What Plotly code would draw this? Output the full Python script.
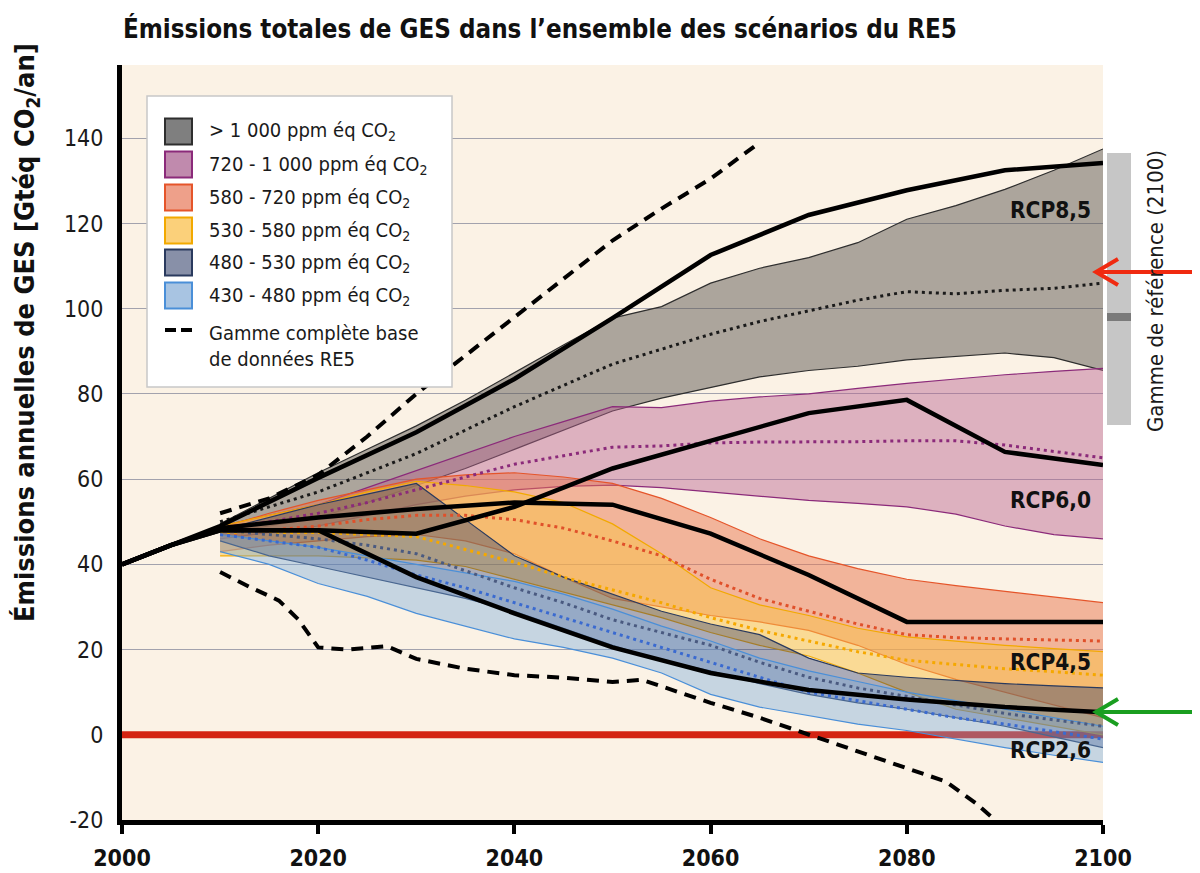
import plotly.graph_objects as go

# ---------------- data ----------------
YEARS = [2010, 2015, 2020, 2025, 2030, 2035, 2040, 2045, 2050, 2055,
         2060, 2065, 2070, 2075, 2080, 2085, 2090, 2095, 2100]

# > 1000 ppm
gt1000_hi = [49.5, 55.5, 61.5, 67, 72.5, 78.5, 85, 91.5, 97.8, 100.5, 106, 109.5, 112, 115.5, 121, 124.2, 128, 132.5, 137.5]
gt1000_med = [50, 53.5, 57, 61.5, 66, 71.5, 77, 82, 87, 90.5, 94, 97, 99.5, 102, 104, 103.5, 104.3, 104.8, 106]
gt1000_lo = [47.5, 49, 51, 54.5, 58.5, 62.5, 67, 71.5, 76, 79, 81.5, 84, 85.5, 86.5, 88, 88.8, 89.6, 88.5, 85.5]
# 720 - 1000 ppm
p720_hi = [49, 51.5, 54, 58, 62, 66, 70, 73.5, 77, 76.8, 78.3, 79.3, 80, 81.3, 82.5, 83.5, 84.5, 85.3, 86]
p720_med = [48.5, 50, 52, 54.5, 57.5, 60.5, 63.5, 65.5, 67.5, 67.8, 68.5, 68.7, 68.7, 68.8, 69, 69, 68, 66.5, 65]
p720_lo = [46, 47.5, 49, 51.5, 54, 56, 57.5, 58.3, 58.6, 58, 57, 56, 55, 54.3, 53.5, 51.8, 49, 47, 46]
# 580 - 720 ppm
p580_hi = [48.5, 52, 55, 57.5, 60, 61, 61.5, 60.5, 59, 55.5, 51, 46, 42, 39, 36.5, 35, 33.7, 32.3, 31]
p580_med = [47, 48, 49, 50.5, 51.5, 51.5, 50.5, 48.5, 45.5, 42, 36.5, 32, 29, 26, 23.5, 22.8, 22.5, 22.3, 22]
p580_lo = [43, 44.5, 45.5, 46.5, 47, 45.5, 42.5, 37, 32, 30, 28, 26.5, 24.5, 21, 16.5, 13, 10, 7, 4]
# 530 - 580 ppm
p530_hi = [49, 51.5, 54, 57, 59.5, 58.5, 57, 54.5, 49.5, 42.5, 34.5, 30.5, 28, 25, 23, 22, 21, 20.2, 19.5]
p530_med = [47.5, 47.5, 47.5, 47, 46.5, 43.5, 40.5, 37, 34, 31, 27.5, 24.5, 22, 19.5, 17.5, 16.5, 15.5, 14.8, 14]
p530_lo = [42, 42, 42, 41.5, 41, 39.5, 36.5, 33.5, 30.5, 27.5, 24, 21, 18.5, 14.5, 10, 6, 4, 2, 0]
# 480 - 530 ppm
p480_hi = [48, 51, 54, 56.5, 59, 50.5, 42, 37, 33, 29, 26, 23.5, 18, 14.5, 13.5, 12.8, 12, 11.5, 11]
p480_med = [48, 47, 46, 44.5, 42.5, 38.5, 34.5, 31, 27, 24, 21, 17, 13.5, 11, 9, 7, 5, 3.5, 2]
p480_lo = [45.5, 42, 39.5, 37, 34.5, 32, 29, 25, 21, 17.5, 15, 12, 9.5, 7.5, 6, 4, 2, -0.5, -3]
# 430 - 480 ppm
p430_hi = [47, 45.5, 44, 42, 40, 38, 36, 33, 29.5, 25.5, 22, 18, 15, 12.5, 10, 8, 6, 4, 2]
p430_med = [47, 45.5, 44, 41, 37.5, 34.5, 31, 27.5, 24, 20.5, 17, 13.5, 10, 8, 6, 4, 2.5, 0.8, -1]
p430_lo = [43, 40, 35.5, 32.5, 28.5, 25.5, 22.5, 20.5, 18, 14.5, 9.5, 6.5, 4.5, 2.5, 1, -1, -3, -4.8, -6.5]

# RCP pathways
RCP_YEARS = [2000, 2005, 2010, 2020, 2030, 2040, 2050, 2060, 2070, 2080, 2090, 2100]
rcp85 = [40, 44.5, 49, 60.3, 71, 83.5, 97.8, 112.6, 122, 127.8, 132.5, 134.2]
rcp60 = [40, 44.5, 48, 48, 47.2, 53.5, 62.5, 69, 75.5, 78.6, 66.4, 63.3]
rcp45 = [40, 44.5, 48.5, 51, 53, 54.5, 54, 47.2, 37.5, 26.5, 26.5, 26.5]
rcp26 = [40, 44.5, 48, 48, 37, 28.5, 20.5, 14.5, 10.5, 8.3, 6.5, 5.3]

# full AR5 database range (dashed)
db_hi_years = [2010, 2015, 2020, 2025, 2030, 2035, 2040, 2045, 2050, 2055, 2060, 2065]
db_hi = [52, 55.5, 61, 70, 80, 89, 98, 107, 116, 123.5, 130.5, 139]
db_lo_years = [2010, 2013, 2016, 2018, 2020, 2023, 2027, 2030, 2035, 2040, 2045, 2050, 2053, 2056,
               2060, 2065, 2070, 2076, 2080, 2084, 2087, 2089]
db_lo = [38.2, 34.7, 31.5, 27, 20.5, 20, 20.8, 17.8, 15.5, 14, 13.4, 12.4, 12.9, 10.5,
         7.5, 4, 0, -4.7, -8, -11, -16, -20]

X_TICKS = [2000, 2020, 2040, 2060, 2080, 2100]
Y_TICKS = [-20, 0, 20, 40, 60, 80, 100, 120, 140]
Y_TICK_TEXT = ["-20", "0", "20", "40", "60", "80", "100", "120", "140"]

LEGEND_LABELS = ["> 1 000 ppm éq CO<sub>2</sub>", "720 - 1 000 ppm éq CO<sub>2</sub>",
                 "580 - 720 ppm éq CO<sub>2</sub>", "530 - 580 ppm éq CO<sub>2</sub>",
                 "480 - 530 ppm éq CO<sub>2</sub>", "430 - 480 ppm éq CO<sub>2</sub>"]
DASH_LABEL = "Gamme complète base<br>de données RE5"
RCP_LABELS = ["RCP8,5", "RCP6,0", "RCP4,5", "RCP2,6"]

# ---------------- styles ----------------
FONT = "DejaVu Sans Condensed, Roboto, sans-serif"
BANDS = [
    (gt1000_lo, gt1000_hi, gt1000_med, "rgba(90,86,79,0.49)", "#2e2e2e", "#1a1a1a", "#7f7f7f"),
    (p720_lo, p720_hi, p720_med, "rgba(184,97,144,0.45)", "#8b2a7a", "#8b2a7a", "#c08aad"),
    (p580_lo, p580_hi, p580_med, "rgba(234,117,80,0.5)", "#e5552a", "#e0502a", "#eea08a"),
    (p530_lo, p530_hi, p530_med, "rgba(250,193,70,0.5)", "#f2a900", "#f5a800", "#fbd07a"),
    (p480_lo, p480_hi, p480_med, "rgba(40,55,110,0.38)", "#2a3a5e", "#4a5a80", "#8890a8"),
    (p430_lo, p430_hi, p430_med, "rgba(120,170,220,0.4)", "#4a8fd8", "#3a6ad0", "#a8c4e2"),
]

fig = go.Figure()

# zero line (beneath bands)
fig.add_trace(go.Scatter(x=[2000, 2100], y=[0, 0], mode="lines",
                         line=dict(color="#d42412", width=7), hoverinfo="skip"))

for lo, hi, med, fillc, edge, medc, _ in BANDS:
    fig.add_trace(go.Scatter(x=YEARS, y=lo, mode="lines",
                             line=dict(color=edge, width=1.2), hoverinfo="skip"))
    fig.add_trace(go.Scatter(x=YEARS, y=hi, mode="lines", fill="tonexty",
                             fillcolor=fillc, line=dict(color=edge, width=1.2),
                             hoverinfo="skip"))

for lo, hi, med, fillc, edge, medc, _ in BANDS:
    fig.add_trace(go.Scatter(x=YEARS, y=med, mode="lines",
                             line=dict(color=medc, width=3, dash="3px,4px"),
                             hoverinfo="skip"))

for r in [rcp85, rcp60, rcp45, rcp26]:
    fig.add_trace(go.Scatter(x=RCP_YEARS, y=r, mode="lines",
                             line=dict(color="black", width=4.5), hoverinfo="skip"))

fig.add_trace(go.Scatter(x=db_hi_years, y=db_hi, mode="lines",
                         line=dict(color="black", width=4, dash="12px,8px"), hoverinfo="skip"))
fig.add_trace(go.Scatter(x=db_lo_years, y=db_lo, mode="lines",
                         line=dict(color="black", width=4, dash="12px,8px"), hoverinfo="skip"))

# ---------------- layout ----------------
# plot area in page pixels (the page body adds an 8 px margin)
OFF = 8
L, R, T, B = 122, 1103, 65, 820
W, H = 1200 - OFF, 873 - OFF


def px(xp):
    return (xp - L) / (R - L)


def py(yp):
    return (B - yp) / (B - T)


fig.update_layout(
    width=W, height=H,
    margin=dict(l=L - OFF, r=W - (R - OFF), t=T - OFF, b=H - (B - OFF)),
    paper_bgcolor="white", plot_bgcolor="#fbf2e5",
    showlegend=False,
    font=dict(family=FONT, color="#1a1a1a"),
    xaxis=dict(range=[2000, 2100], tickvals=X_TICKS, ticks="outside", ticklen=9,
               tickwidth=4, tickcolor="black", showline=True, linewidth=5,
               linecolor="black", showgrid=False, zeroline=False, ticklabelstandoff=4,
               automargin=False,
               tickfont=dict(size=23, family=FONT, weight="bold", color="#111")),
    yaxis=dict(range=[-20, 157.2], tickvals=Y_TICKS, ticktext=Y_TICK_TEXT, ticks="",
               showline=True, linewidth=5, linecolor="black", showgrid=True,
               gridcolor="#a2a2ad", gridwidth=1, zeroline=False, ticklabelstandoff=9,
               automargin=False,
               tickfont=dict(size=23, family=FONT, color="#1a1a1a")),
)

shapes = []
annotations = []

# title
annotations.append(dict(text="Émissions totales de GES dans l’ensemble des scénarios du RE5",
                        xref="paper", yref="paper", x=px(121), y=py(28),
                        xanchor="left", yanchor="middle", showarrow=False,
                        font=dict(size=25.7, family=FONT, weight="bold", color="#111")))
# y title
annotations.append(dict(text="Émissions annuelles de GES [Gtéq CO<sub>2</sub>/an]",
                        xref="paper", yref="paper", x=px(27), y=py(333),
                        xanchor="center", yanchor="middle", textangle=-90, showarrow=False,
                        font=dict(size=27, family=FONT, weight="bold", color="#111")))

# legend box
shapes.append(dict(type="rect", xref="paper", yref="paper", x0=px(147), x1=px(452),
                   y0=py(387), y1=py(96), fillcolor="white",
                   line=dict(color="#c8c8c8", width=1.5), layer="above"))
leg_y = [131.5, 164.5, 197.5, 230.5, 262.5, 295.5]
for (band, lab, yc) in zip(BANDS, LEGEND_LABELS, leg_y):
    shapes.append(dict(type="rect", xref="paper", yref="paper", x0=px(165), x1=px(192),
                       y0=py(yc + 13), y1=py(yc - 13), fillcolor=band[6],
                       line=dict(color=band[4], width=2), layer="above"))
    annotations.append(dict(text=lab, xref="paper", yref="paper", x=px(207), y=py(yc),
                            xanchor="left", yanchor="middle", showarrow=False,
                            font=dict(size=20, family=FONT, color="#1a1a1a")))
shapes.append(dict(type="line", xref="paper", yref="paper", x0=px(165), x1=px(194),
                   y0=py(330), y1=py(330), line=dict(color="black", width=4, dash="11px,5px"),
                   layer="above"))
annotations.append(dict(text=DASH_LABEL, xref="paper", yref="paper", x=px(207), y=py(346),
                        xanchor="left", yanchor="middle", showarrow=False, align="left",
                        font=dict(size=20, family=FONT, color="#1a1a1a")))

# RCP labels
for lab, yc in zip(RCP_LABELS, [210, 500, 662, 750]):
    annotations.append(dict(text=lab, xref="paper", yref="paper", x=px(1093), y=py(yc),
                            xanchor="right", yanchor="middle", showarrow=False,
                            font=dict(size=22.5, family=FONT, weight="bold", color="#111")))

# reference range bar (2100)
shapes.append(dict(type="rect", xref="paper", yref="paper", x0=px(1107), x1=px(1131),
                   y0=py(425), y1=py(153), fillcolor="#c6c6c6", line=dict(width=0)))
shapes.append(dict(type="rect", xref="paper", yref="paper", x0=px(1107), x1=px(1131),
                   y0=py(321), y1=py(313), fillcolor="#7a7a7a", line=dict(width=0)))
annotations.append(dict(text="Gamme de référence (2100)", xref="paper", yref="paper",
                        x=px(1155), y=py(291), xanchor="center", yanchor="middle",
                        textangle=-90, showarrow=False,
                        font=dict(size=22, family=FONT, color="#1a1a1a")))

# arrows
for yc, col in [(272, "#f02a10"), (712, "#1a9e20")]:
    shapes.append(dict(type="line", xref="paper", yref="paper", x0=px(1200), x1=px(1098),
                       y0=py(yc), y1=py(yc), line=dict(color=col, width=4), layer="above"))
    shapes.append(dict(type="path", xref="paper", yref="paper",
                       path=f"M {px(1118)},{py(yc - 13)} L {px(1096)},{py(yc)} L {px(1118)},{py(yc + 13)}",
                       line=dict(color=col, width=4), layer="above"))

fig.update_layout(shapes=shapes, annotations=annotations)
fig.write_html("out.html")
